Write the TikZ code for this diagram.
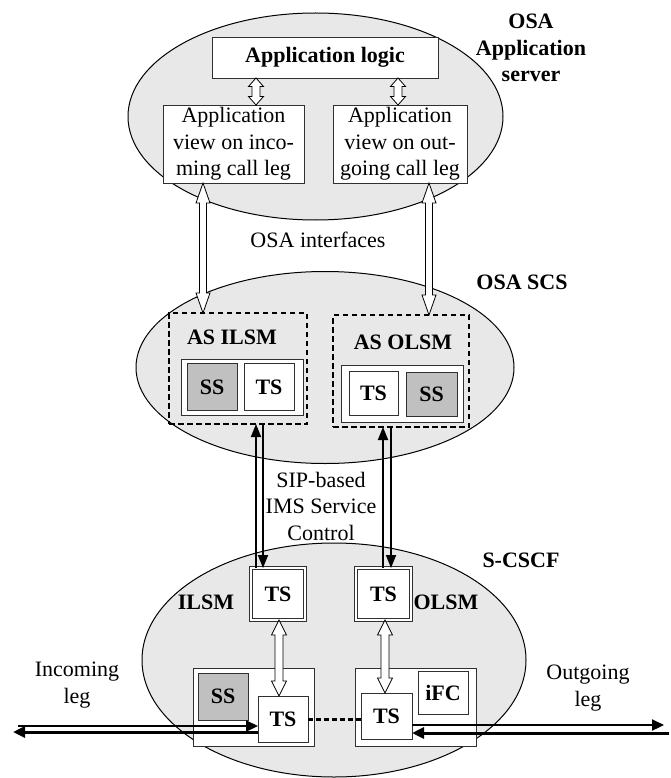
\documentclass[tikz,border=0pt]{standalone}
\usepackage{fontspec}
\setmainfont{Liberation Serif}
\usetikzlibrary{arrows.meta,shapes.geometric,calc}
\definecolor{ellfill}{HTML}{E8E8E8}
\definecolor{ssfill}{HTML}{C0C0C0}
\definecolor{boxline}{HTML}{303030}
% hollow double-headed arrow: #1 start, #2 end (named coordinates), #3 head length, #4 head half width, #5 shaft half width
\newcommand{\hollowconn}[5]{%
  \filldraw[hollowst] (#1) -- ($(#1)!#3!(#2)!#4!90:(#2)$) -- ($(#1)!#3!(#2)!#5!90:(#2)$)
   -- ($(#2)!#3!(#1)!#5!-90:(#1)$) -- ($(#2)!#3!(#1)!#4!-90:(#1)$) -- (#2)
   -- ($(#2)!#3!(#1)!#4!90:(#1)$) -- ($(#2)!#3!(#1)!#5!90:(#1)$)
   -- ($(#1)!#3!(#2)!#5!-90:(#2)$) -- ($(#1)!#3!(#2)!#4!-90:(#2)$) -- cycle;}
\begin{document}
\begin{tikzpicture}[x=1pt,y=-1pt,
  every node/.style={font=\fontsize{22}{26.5}\selectfont, inner sep=0pt, outer sep=0pt},
  ell/.style={ellipse, draw=black, fill=ellfill, line width=1pt},
  box/.style={rectangle, draw=boxline, fill=white, line width=0.9pt},
  ssbox/.style={box, fill=ssfill, font=\fontsize{22}{26.5}\selectfont\bfseries},
  tsbox/.style={box, font=\fontsize{22}{26.5}\selectfont\bfseries},
  dbox/.style={rectangle, draw=boxline, fill=white, line width=0.8pt, double=white, double distance=2.4pt, font=\fontsize{22}{26.5}\selectfont\bfseries},
  dashbox/.style={rectangle, draw=black, line width=1.8pt, dash pattern=on 5.5pt off 3.5pt},
  lbl/.style={font=\fontsize{22}{26.5}\selectfont\bfseries, align=center},
  txt/.style={font=\fontsize{22}{26.5}\selectfont, align=center},
  hollowst/.style={draw=black, fill=white, line width=0.8pt, line join=miter},
  sip/.style={draw=black, line width=1.8pt, -{Triangle[length=13pt,width=10pt]}},
  legthin/.style={draw=black, line width=2.2pt, -{Triangle[length=12pt,width=11pt]}},
  legthick/.style={draw=black, line width=3pt, -{Triangle[length=12pt,width=11pt]}}
]
\useasboundingbox (0,0) rectangle (671,778);

% ellipses
\node[ell, minimum width=375pt, minimum height=207pt] (asell) at (315.5,116.5) {};
\node[ell, minimum width=378pt, minimum height=192pt] (scsell) at (325,367.5) {};
\node[ell, minimum width=384pt, minimum height=234pt] (cscfell) at (334,660) {};

% labels
\node[lbl] (asl) at (531,48) {OSA\\Application\\server};
\node[lbl] (scsl) at (522,282) {OSA SCS};
\node[lbl] (cscfl) at (521,560) {S-CSCF};
\node[txt] (osaif) at (318,240) {OSA interfaces};
\node[txt] (sipl) at (321,506) {SIP-based\\IMS Service\\Control};
\node[txt] (inl) at (77,685) {Incoming\\leg};
\node[txt] (outl) at (588,688) {Outgoing\\leg};

% application server boxes
\node[box, minimum width=226pt, minimum height=41pt, font=\fontsize{22}{26.5}\selectfont\bfseries] (logic) at (325,57.5) {Application logic};
\node[box, minimum width=141pt, minimum height=78pt, align=center] (lview) at (233.5,144) {Application\\view on inco-\\ming call leg};
\node[box, minimum width=134pt, minimum height=78pt, align=center] (rview) at (400,144) {Application\\view on out-\\going call leg};

\coordinate (h1a) at (256,0 |- logic.south);
\coordinate (h1b) at (256,0 |- lview.north);
\coordinate (h2a) at (398,0 |- logic.south);
\coordinate (h2b) at (398,0 |- rview.north);
\hollowconn{h1a}{h1b}{8.5pt}{7.5pt}{4pt}
\hollowconn{h2a}{h2b}{8.5pt}{7.5pt}{4pt}

% OSA SCS
\node[dashbox, minimum width=138pt, minimum height=111pt] (ailsm) at (238,368.5) {};
\node[lbl] (ailsml) at (232,337) {AS ILSM};
\node[box, minimum width=122pt, minimum height=56pt] (ailsmin) at (242,387.5) {};
\node[ssbox, minimum width=50pt, minimum height=47pt] (ss1) at (212,387) {SS};
\node[tsbox, minimum width=50pt, minimum height=47pt] (ts1) at (269,387) {TS};

\node[dashbox, minimum width=136pt, minimum height=112pt] (aolsm) at (401,371) {};
\node[lbl] (aolsml) at (403,342) {AS OLSM};
\node[box, minimum width=122pt, minimum height=57pt] (aolsmin) at (402,393.5) {};
\node[tsbox, minimum width=49pt, minimum height=44pt] (ts2) at (373.5,393) {TS};
\node[ssbox, minimum width=51pt, minimum height=44pt] (ss2) at (431.5,394) {SS};

\coordinate (h3a) at (203,0 |- lview.south);
\coordinate (h3b) at (203,0 |- ailsm.north);
\coordinate (h4a) at (429,0 |- rview.south);
\coordinate (h4b) at (429,0 |- aolsm.north);
\hollowconn{h3a}{h3b}{20pt}{7pt}{3.5pt}
\hollowconn{h4a}{h4b}{20pt}{7pt}{3.5pt}

% S-CSCF
\node[dbox, minimum width=54pt, minimum height=52pt] (ts3) at (278,594) {TS};
\node[dbox, minimum width=55pt, minimum height=52pt] (ts4) at (383.5,594) {TS};
\node[lbl] (ilsml) at (206,602) {ILSM};
\node[lbl] (olsml) at (446,602) {OLSM};

\draw[sip] (256,0 |- ts3.north) -- (256,0 |- ailsm.south);
\draw[sip] (263,0 |- ailsm.south) -- (263,0 |- ts3.north);
\draw[sip] (383,0 |- ts4.north) -- (383,0 |- aolsm.south);
\draw[sip] (391,0 |- aolsm.south) -- (391,0 |- ts4.north);

\node[box, minimum width=121pt, minimum height=78pt] (lbox) at (253.5,707) {};
\node[ssbox, minimum width=50pt, minimum height=47pt] (ss3) at (223,696.5) {SS};
\node[tsbox, minimum width=50pt, minimum height=46pt] (ts5) at (283,719) {TS};
\node[box, minimum width=121pt, minimum height=78pt] (rbox) at (415.5,707) {};
\node[tsbox, minimum width=51pt, minimum height=46pt] (ts6) at (386.5,716) {TS};
\node[tsbox, minimum width=50pt, minimum height=43pt] (ifc) at (443,692.5) {iFC};

\coordinate (h5a) at (279,0 |- ts3.south);
\coordinate (h5b) at (279,0 |- ts5.north);
\coordinate (h6a) at (385,0 |- ts4.south);
\coordinate (h6b) at (385,0 |- ts6.north);
\hollowconn{h5a}{h5b}{15pt}{7.5pt}{4pt}
\hollowconn{h6a}{h6b}{15pt}{7.5pt}{4pt}

\draw[draw=black, line width=3pt, dash pattern=on 5pt off 3pt] (ts5.east) -- (ts5.east -| ts6.west);

% legs
\coordinate (inA) at (18,726);
\coordinate (inB) at (13,732);
\coordinate (outA) at (664,725);
\coordinate (outB) at (669,733);
\draw[legthin] (inA) -- (inA -| ts5.west);
\draw[legthick] (inB -| ts5.west) -- (inB);
\draw[legthin] (outA -| ts6.east) -- (outA);
\draw[legthick] (outB) -- (outB -| ts6.east);
\end{tikzpicture}
\end{document}
